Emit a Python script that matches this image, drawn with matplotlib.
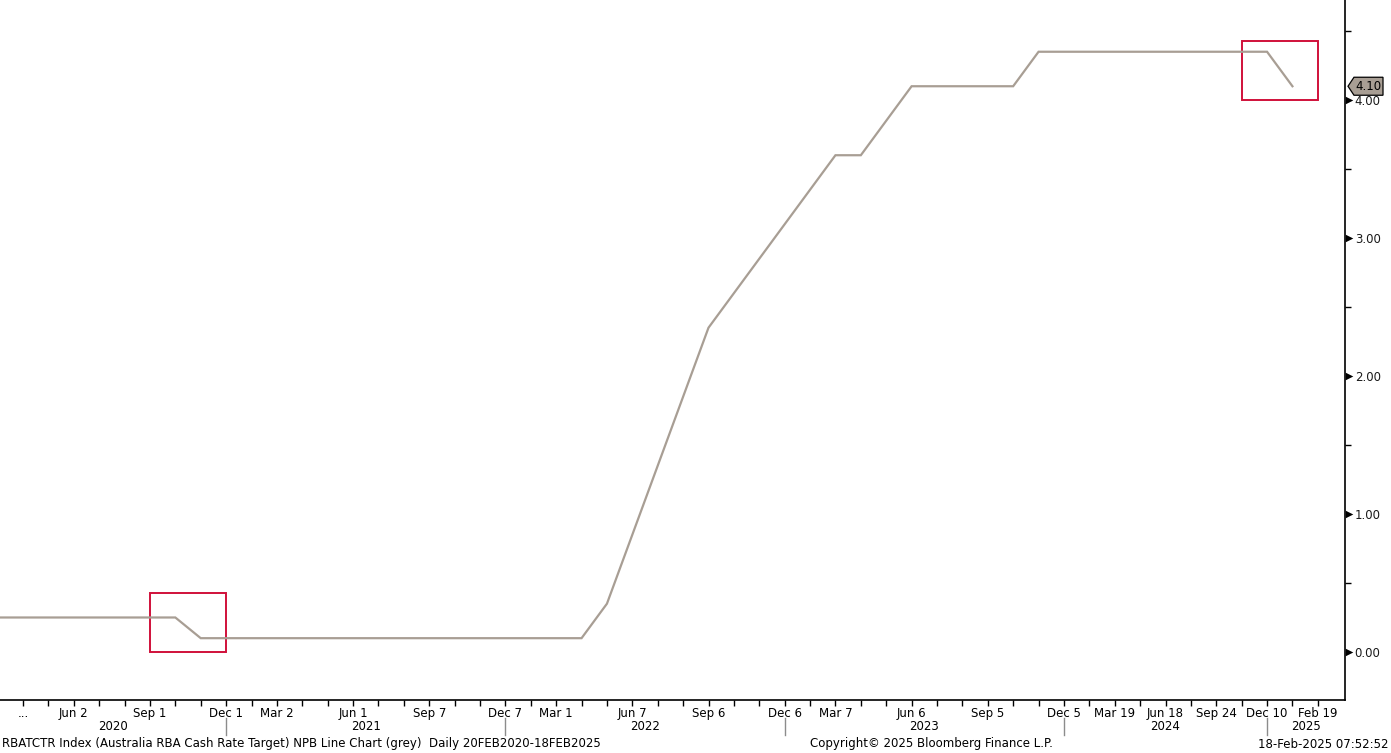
"""
RBA cash rate target, Bloomberg-style line chart.
"""
import matplotlib
matplotlib.use('Agg')
import matplotlib.pyplot as plt
from matplotlib.patches import Rectangle, Polygon
from matplotlib.transforms import IdentityTransform, ScaledTranslation, blended_transform_factory

plt.rcParams['font.family'] = ['DejaVu Sans']

# x axis is in Bloomberg "periods" (one tick per period)
periods = [-1, 6, 7, 22, 23, 24, 25, 26, 27, 28, 29, 30, 31, 32, 33, 34, 35, 39, 40, 49, 50]
rates = [0.25, 0.25, 0.10, 0.10, 0.35, 0.85, 1.35, 1.85, 2.35, 2.60, 2.85, 3.10,
         3.35, 3.60, 3.60, 3.85, 4.10, 4.10, 4.35, 4.35, 4.10]

tick_periods = [0, 2, 5, 8, 10, 13, 16, 19, 21, 24, 27, 30, 32, 35, 38, 41, 43, 45, 47, 49, 51]
tick_labels = ['...', 'Jun 2', 'Sep 1', 'Dec 1', 'Mar 2', 'Jun 1', 'Sep 7', 'Dec 7', 'Mar 1',
               'Jun 7', 'Sep 6', 'Dec 6', 'Mar 7', 'Jun 6', 'Sep 5', 'Dec 5', 'Mar 19',
               'Jun 18', 'Sep 24', 'Dec 10', 'Feb 19']
years = ['2020', '2021', '2022', '2023', '2024', '2025']
year_breaks = [8, 19, 30, 41, 49]

# highlighted regions: (period start, period end, rate low, rate high)
highlights = [(5, 8, 0.0, 0.43), (48, 51, 4.0, 4.43)]

y_ticks = [0.0, 1.0, 2.0, 3.0, 4.0]

LINE = '#a89e94'
BOX = '#d0103a'
W, H = 1391, 753
FS = 8.5

fig = plt.figure(figsize=(W / 100, H / 100), dpi=100)
ax = fig.add_axes([0, 53 / H, 1345 / W, 700 / H])

x0, x1 = -0.906, 52.07
ax.set_xlim(x0, x1)
ax.set_ylim(-0.348, 4.725)

ax.plot(periods, rates, color=LINE, lw=1.6, solid_joinstyle='miter')

for p0, p1, lo, hi in highlights:
    ax.add_patch(Rectangle((p0, lo), p1 - p0, hi - lo, fill=False,
                           edgecolor=BOX, lw=1.4))

# spines
for s in ['left', 'top']:
    ax.spines[s].set_visible(False)
ax.spines['right'].set_linewidth(1.2)
ax.spines['bottom'].set_linewidth(1.2)

# x ticks
ax.set_xticks(tick_periods, tick_labels)
ax.set_xticks(range(0, 52), minor=True)
ax.tick_params(axis='x', which='both', direction='out', length=4, width=1,
               labelsize=FS, pad=1, colors='black')

# y ticks on the right, triangle markers for majors
ax.yaxis.tick_right()
ax.set_yticks(y_ticks, [f'{v:.2f}' for v in y_ticks])
ax.set_yticks([0.5, 1.5, 2.5, 3.5, 4.5], minor=True)
ax.tick_params(axis='y', which='major', length=0, pad=7, labelsize=FS,
               labelcolor='#1a1a1a')
ax.tick_params(axis='y', which='minor', length=4, width=1, direction='out')
tri_tr = (blended_transform_factory(ax.transAxes, ax.transData)
          + ScaledTranslation(4 / 100, 0, fig.dpi_scale_trans))
ax.scatter([1.0] * len(y_ticks), y_ticks, marker='>', s=30, color='black',
           transform=tri_tr, clip_on=False, zorder=5, linewidths=0)

# year labels and separators
xb = blended_transform_factory(ax.transData, ax.transAxes)
edges = [x0] + year_breaks + [x1]
for i, yr in enumerate(years):
    ax.text((edges[i] + edges[i + 1]) / 2, -27 / 700, yr, transform=xb,
            ha='center', va='center', fontsize=FS)
for b in year_breaks:
    ax.plot([b, b], [-18 / 700, -35 / 700], transform=xb, color='#8c8c8c',
            lw=1, clip_on=False)

# last value tag
fig.canvas.draw()
last = rates[-1]
py = ax.transData.transform((0, last))[1]
px = ax.transAxes.transform((1, 0))[0]
tag = Polygon([(px + 3, py), (px + 9, py + 9), (px + 38, py + 9),
               (px + 38, py - 9), (px + 9, py - 9)], closed=True,
              facecolor=LINE, edgecolor='black', lw=0.9,
              transform=IdentityTransform())
fig.add_artist(tag)
fig.text((px + 23.5) / W, py / H, f'{last:.2f}', ha='center', va='center',
         fontsize=FS, color='black')

# footer
fy = 9 / H
fig.text(2 / W, fy, 'RBATCTR Index (Australia RBA Cash Rate Target) NPB Line Chart (grey)  '
         'Daily 20FEB2020-18FEB2025', ha='left', va='center', fontsize=FS)
fig.text(810 / W, fy, 'Copyright© 2025 Bloomberg Finance L.P.', ha='left',
         va='center', fontsize=FS)
fig.text(1389 / W, fy, '18-Feb-2025 07:52:52', ha='right', va='center', fontsize=FS)

fig.savefig('out.png', dpi=100)
